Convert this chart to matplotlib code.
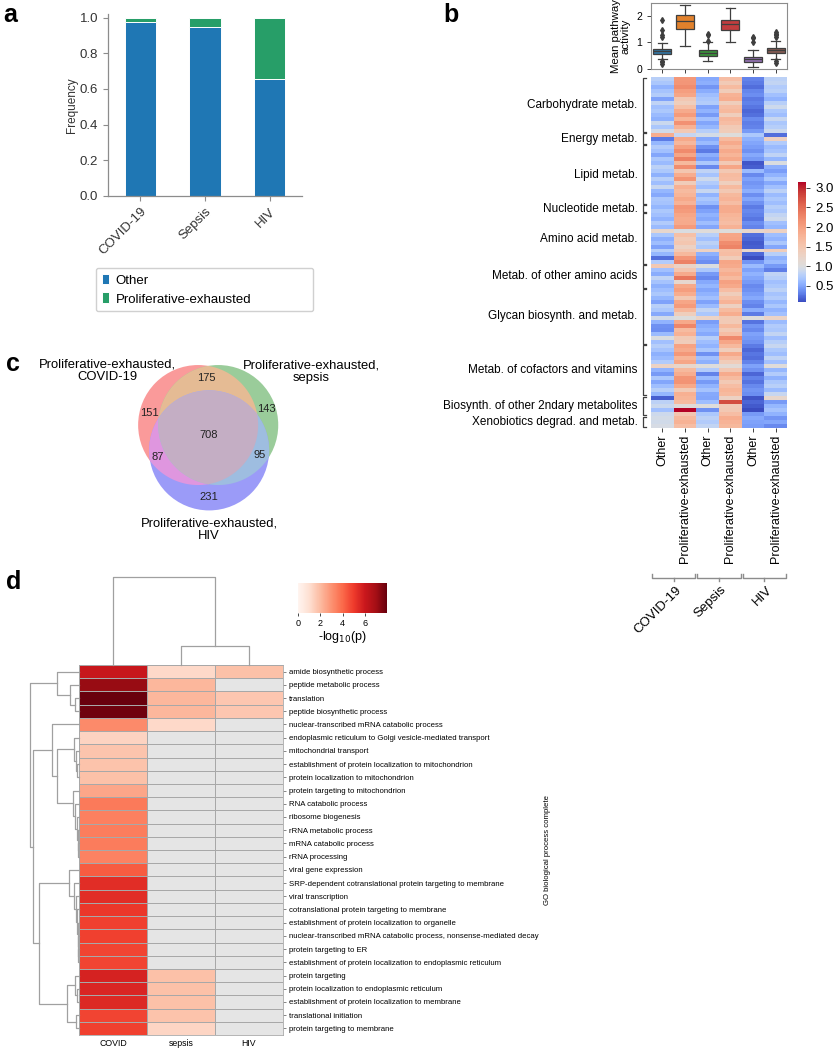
import numpy as np
import matplotlib
matplotlib.use("Agg")
import matplotlib.pyplot as plt
from matplotlib.colors import ListedColormap, Normalize, TwoSlopeNorm
from matplotlib.patches import Circle, Polygon
from matplotlib.transforms import blended_transform_factory

plt.rcParams["font.family"] = ["Liberation Sans", "DejaVu Sans"]

# ---------------- data ----------------
# (a) cell-state frequencies
DISEASES = ["COVID-19", "Sepsis", "HIV"]
FREQ_OTHER = [0.975, 0.945, 0.655]
FREQ_PE = [0.025, 0.055, 0.345]

# (b) mean pathway activity, rows = KEGG pathways, cols = disease x state
COL_LABELS = ["Other", "Proliferative-exhausted"] * 3
GROUP_NAMES = ["Carbohydrate metab.", "Energy metab.", "Lipid metab.", "Nucleotide metab.",
               "Amino acid metab.", "Metab. of other amino acids", "Glycan biosynth. and metab.",
               "Metab. of cofactors and vitamins", "Biosynth. of other 2ndary metabolites",
               "Xenobiotics degrad. and metab."]
GROUP_SIZES = [14, 3, 15, 2, 13, 6, 14, 13, 5, 3]
ACTIVITY = [
    # carbohydrate
    [0.78, 2.08, 0.52, 1.62, 0.33, 0.80], [0.70, 2.10, 0.55, 1.42, 0.30, 0.84],
    [0.58, 2.20, 0.42, 1.66, 0.24, 0.74], [0.68, 2.02, 0.54, 1.40, 0.35, 0.79],
    [0.75, 1.94, 0.64, 1.78, 0.38, 0.66], [0.48, 1.48, 0.70, 1.84, 0.29, 0.58],
    [0.82, 1.36, 0.75, 1.38, 0.32, 0.78], [0.66, 1.60, 0.48, 1.62, 0.27, 0.90],
    [0.72, 1.88, 0.58, 1.70, 0.22, 0.72], [0.62, 2.05, 0.44, 1.36, 0.25, 0.64],
    [0.56, 1.75, 0.66, 1.72, 0.37, 0.86], [0.88, 2.15, 0.50, 1.64, 0.31, 0.70],
    [0.70, 1.78, 0.60, 1.44, 0.34, 0.76], [0.92, 1.45, 0.76, 1.40, 0.44, 0.88],
    # energy
    [1.85, 0.85, 0.95, 1.02, 0.72, 0.24], [0.30, 1.90, 0.52, 1.68, 0.56, 1.32],
    [0.60, 1.72, 0.62, 1.88, 0.50, 0.74],
    # lipid
    [0.74, 2.00, 0.40, 1.70, 0.46, 0.62], [0.66, 2.22, 0.30, 1.88, 0.40, 0.68],
    [0.50, 1.92, 0.55, 1.74, 0.52, 0.82], [0.70, 2.30, 0.46, 1.90, 0.44, 0.60],
    [0.62, 1.70, 0.72, 1.45, 0.14, 0.98], [0.80, 2.18, 0.36, 1.92, 0.18, 0.55],
    [0.72, 1.50, 0.82, 1.46, 0.62, 0.46], [0.56, 1.84, 0.68, 1.66, 0.36, 0.58],
    [0.76, 2.12, 0.90, 1.62, 0.48, 0.70], [0.64, 1.40, 0.74, 1.34, 0.42, 0.52],
    [0.86, 1.80, 0.64, 1.68, 0.46, 0.66], [0.60, 1.66, 0.86, 1.46, 0.55, 0.80],
    [0.52, 1.74, 0.58, 1.70, 0.38, 0.62], [0.70, 1.90, 0.70, 1.76, 0.50, 0.72],
    [0.68, 1.76, 0.62, 1.64, 0.40, 0.64],
    # nucleotide
    [0.60, 2.10, 0.40, 1.86, 0.30, 0.76], [0.72, 2.04, 0.48, 1.86, 0.36, 0.70],
    # amino acid
    [0.66, 1.92, 0.58, 1.74, 0.32, 0.84], [0.58, 1.86, 0.52, 1.70, 0.28, 0.90],
    [0.74, 1.88, 0.64, 1.62, 0.38, 0.66], [0.62, 2.05, 0.50, 1.78, 0.34, 0.60],
    [1.20, 0.98, 1.05, 1.02, 1.20, 1.30], [0.70, 1.60, 0.78, 1.94, 0.25, 0.64],
    [0.55, 1.42, 0.66, 1.96, 0.20, 0.58], [0.64, 1.50, 0.80, 2.20, 0.16, 0.70],
    [0.48, 1.30, 0.72, 2.28, 0.18, 0.50], [0.76, 1.45, 1.30, 1.60, 1.17, 1.38],
    [0.60, 1.70, 0.56, 1.62, 0.22, 0.78], [0.25, 2.10, 0.46, 1.40, 0.11, 0.56],
    [0.74, 2.30, 0.38, 1.94, 0.42, 0.62],
    # other amino acids
    [1.47, 1.24, 0.98, 1.88, 0.62, 0.44], [0.66, 1.52, 0.70, 1.72, 0.48, 0.31],
    [0.54, 1.88, 0.44, 1.84, 0.58, 0.82], [0.82, 2.40, 0.36, 1.68, 0.50, 0.76],
    [0.68, 1.16, 0.52, 1.98, 0.44, 0.66], [0.56, 1.90, 0.60, 1.90, 0.36, 0.72],
    # glycan
    [0.64, 2.02, 0.50, 1.64, 0.40, 0.80], [0.72, 1.84, 0.58, 1.38, 0.46, 0.68],
    [0.60, 1.46, 0.66, 1.60, 0.52, 0.74], [0.48, 1.94, 0.48, 1.76, 0.38, 0.60],
    [0.78, 2.06, 0.62, 1.32, 0.34, 0.70], [0.70, 1.72, 0.84, 1.66, 0.54, 0.58],
    [0.52, 1.36, 0.70, 1.84, 0.30, 0.66], [0.92, 1.02, 1.26, 1.44, 1.00, 1.26],
    [0.58, 1.90, 0.46, 1.42, 0.26, 0.62], [0.40, 2.25, 0.54, 1.70, 0.42, 0.74],
    [0.38, 1.66, 0.60, 1.44, 0.36, 0.70], [0.62, 1.80, 0.52, 1.62, 0.48, 0.84],
    [0.98, 1.42, 0.76, 2.24, 0.44, 0.64], [0.66, 1.38, 0.64, 1.92, 0.40, 0.76],
    # cofactors and vitamins
    [0.76, 1.96, 0.58, 1.70, 0.30, 0.86], [0.68, 1.86, 0.70, 1.36, 0.22, 0.72],
    [0.56, 2.08, 0.40, 1.90, 0.28, 0.64], [0.62, 1.74, 0.66, 1.64, 0.24, 0.82],
    [0.74, 1.92, 0.56, 1.40, 0.34, 0.66], [1.28, 1.20, 1.02, 1.10, 0.48, 1.05],
    [0.58, 1.70, 0.74, 1.48, 0.40, 0.60], [0.44, 1.84, 0.34, 1.86, 0.20, 0.74],
    [0.70, 2.12, 0.62, 1.66, 0.32, 0.56], [0.50, 2.14, 0.44, 1.45, 0.26, 0.70],
    [0.64, 1.90, 0.58, 1.62, 0.36, 0.78], [0.78, 1.44, 0.68, 1.74, 0.42, 0.62],
    [0.60, 1.82, 0.52, 1.68, 0.38, 0.86],
    # 2ndary metabolites
    [0.18, 1.74, 0.50, 1.30, 0.13, 1.20], [0.80, 1.66, 0.64, 2.75, 0.20, 0.44],
    [0.88, 1.04, 1.00, 1.42, 0.16, 0.60], [0.66, 3.15, 0.40, 1.46, 0.09, 0.68],
    [0.90, 1.50, 0.72, 1.62, 0.44, 0.58],
    # xenobiotics
    [0.94, 1.70, 0.80, 1.84, 0.52, 0.42], [0.92, 1.78, 0.74, 1.76, 0.48, 0.50],
    [0.96, 1.64, 0.84, 1.70, 0.46, 0.36],
]

# (c) venn region counts: COVID-19 / sepsis / HIV
VENN_ONLY = [151, 143, 231]          # A, B, C
VENN_PAIR = [175, 87, 95]            # AB, AC, BC
VENN_ALL = 708
VENN_NAMES = ["Proliferative-exhausted,\nCOVID-19", "Proliferative-exhausted,\nsepsis",
              "Proliferative-exhausted,\nHIV"]

# (d) GO enrichment, -log10(p); nan = not enriched
GO_TERMS = ["amide biosynthetic process", "peptide metabolic process", "translation",
            "peptide biosynthetic process", "nuclear-transcribed mRNA catabolic process",
            "endoplasmic reticulum to Golgi vesicle-mediated transport", "mitochondrial transport",
            "establishment of protein localization to mitochondrion",
            "protein localization to mitochondrion", "protein targeting to mitochondrion",
            "RNA catabolic process", "ribosome biogenesis", "rRNA metabolic process",
            "mRNA catabolic process", "rRNA processing", "viral gene expression",
            "SRP-dependent cotranslational protein targeting to membrane", "viral transcription",
            "cotranslational protein targeting to membrane",
            "establishment of protein localization to organelle",
            "nuclear-transcribed mRNA catabolic process, nonsense-mediated decay",
            "protein targeting to ER", "establishment of protein localization to endoplasmic reticulum",
            "protein targeting", "protein localization to endoplasmic reticulum",
            "establishment of protein localization to membrane", "translational initiation",
            "protein targeting to membrane"]
GO_GROUPS = ["COVID", "sepsis", "HIV"]
nan = np.nan
GO_COVID = [6.1, 7.2, 7.95, 7.85, 3.2, 1.35, 1.75, 1.8, 1.85, 2.5, 3.6, 3.45, 3.5, 3.55,
            3.4, 4.3, 5.4, 5.4, 5.1, 4.9, 4.9, 4.8, 4.8, 5.7, 5.6, 5.5, 4.8, 4.9]
GO_SEPSIS = [1.2, 2.1, 2.1, 2.1, 1.2, nan, nan, nan, nan, nan, nan, nan, nan, nan,
             nan, nan, nan, nan, nan, nan, nan, nan, nan, 1.85, 1.85, 1.85, 1.8, 1.3]
GO_HIV = [1.85, nan, 1.7, 1.7] + [nan] * 24
# dendrograms: (height, left, right), leaves are indices
COL_TREE = (88, 0, (19, 1, 2))
ROW_TREE = (49, (22, 0, (9, 1, (4, 2, 3))),
            (46, (27, 4, (22, (5, 5, (3, 6, (2, 7, 8))),
                          (6, 9, (4, 10, (2, 11, (1, 12, (1, 13, 14))))))),
             (40, (10, 15, (5, 16, (3, 17, (2, 18, (1, 19, (1, 20, (1, 21, 22))))))),
              (12, (4, 23, (2, 24, 25)), (3, 26, 27)))))

# ---------------- layout helpers ----------------
W, H = 833, 1050
fig = plt.figure(figsize=(W / 100, H / 100), dpi=100)


def rect(x0, y0, x1, y1):
    return [x0 / W, 1 - y1 / H, (x1 - x0) / W, (y1 - y0) / H]


GREY = "#8c8c8c"
TXT = "#333333"

# ---------------- (a) stacked bars ----------------
C_OTHER, C_PE = "#1f77b4", "#279e68"
ax = fig.add_axes(rect(108, 14, 302, 196))
xs = np.arange(len(DISEASES))
ax.bar(xs, FREQ_OTHER, width=0.48, color=C_OTHER, edgecolor="white", lw=0.7, label="Other")
ax.bar(xs, FREQ_PE, bottom=FREQ_OTHER, width=0.48, color=C_PE, edgecolor="white", lw=0.7,
       label="Proliferative-exhausted")
ax.set_xlim(-0.5, 2.5)
ax.set_ylim(0, 1.02)
ax.set_yticks([0, 0.2, 0.4, 0.6, 0.8, 1.0])
ax.set_xticks(xs)
ax.set_xticklabels(DISEASES, rotation=45, ha="right", rotation_mode="anchor")
ax.tick_params(colors=GREY, labelcolor=TXT, labelsize=9.5, length=3.5, width=0.8)
ax.set_ylabel("Frequency", fontsize=8.5, color=TXT, labelpad=1)
for s in ["top", "right"]:
    ax.spines[s].set_visible(False)
for s in ["left", "bottom"]:
    ax.spines[s].set_color(GREY)
    ax.spines[s].set_linewidth(0.9)
ax.legend(loc="upper left", bbox_to_anchor=(89 / W, 1 - 261 / H, 231 / W, 0.0),
          bbox_transform=fig.transFigure, mode="expand", fontsize=9.5, handlelength=0.55,
          handleheight=0.9, handletextpad=0.5, labelspacing=0.45, borderpad=0.45,
          framealpha=1, edgecolor="#d0d0d0")

# ---------------- (b) box plot + heatmap ----------------
M = np.array(ACTIVITY)
vmin, vmax = M.min(), M.max()
tsn = TwoSlopeNorm(vcenter=1.0, vmin=vmin, vmax=vmax)
cmap_b = ListedColormap(plt.get_cmap("coolwarm")(tsn(np.linspace(vmin, vmax, 256))))

BOX_COLORS = ["#3274a1", "#e1812c", "#3a923a", "#c03d3e", "#9372b2", "#845b53"]
axb = fig.add_axes(rect(651, 3, 787, 69))
dark = "#3f3f3f"
bp = axb.boxplot([M[:, j] for j in range(M.shape[1])], positions=range(M.shape[1]),
                 widths=0.8, patch_artist=True,
                 boxprops=dict(edgecolor=dark, lw=0.9),
                 medianprops=dict(color=dark, lw=0.9),
                 whiskerprops=dict(color=dark, lw=0.9), capprops=dict(color=dark, lw=0.9),
                 flierprops=dict(marker="d", markerfacecolor=dark, markeredgecolor=dark,
                                 markersize=3))
for patch, c in zip(bp["boxes"], BOX_COLORS):
    patch.set_facecolor(c)
axb.set_xlim(-0.5, 5.5)
axb.set_ylim(0, 2.47)
axb.set_yticks([0, 1, 2])
axb.set_xticks(range(6))
axb.set_xticklabels([])
axb.tick_params(labelsize=7.5, length=3, width=0.7, colors=dark, labelcolor="black")
for s in axb.spines.values():
    s.set_color(GREY)
    s.set_linewidth(0.8)
axb.set_ylabel("Mean pathway\nactivity", fontsize=8.2, labelpad=4, linespacing=1.0)

axh = fig.add_axes(rect(651, 77, 787, 428))
im = axh.imshow(M, aspect="auto", cmap=cmap_b, norm=Normalize(vmin, vmax),
                interpolation="nearest")
axh.set_yticks([])
axh.set_xticks(range(6))
axh.set_xticklabels(COL_LABELS, rotation=90, fontsize=9)
axh.tick_params(axis="x", length=3, width=0.7, color=dark, pad=2)
for s in axh.spines.values():
    s.set_visible(False)

# pathway group brackets
tr = blended_transform_factory(axh.transAxes, axh.transData)
start = 0
for name, n in zip(GROUP_NAMES, GROUP_SIZES):
    y0, y1 = start - 0.5 + 0.15, start + n - 0.5 - 0.15
    xl, xc = -0.062, -0.04
    axh.plot([xc, xl, xl, xc], [y0, y0, y1, y1], color=dark, lw=0.9, transform=tr,
             clip_on=False)
    axh.text(-0.1, start + n / 2 - 0.5, name, transform=tr, ha="right", va="center",
             fontsize=8.5)
    start += n

# disease brackets under the column labels
trb = blended_transform_factory(axh.transData, fig.transFigure)
yb = 1 - 578 / H
for k, name in enumerate(DISEASES):
    a0, a1 = 2 * k - 0.45, 2 * k + 1.45
    mid = 2 * k + 0.5
    up = 4 / H
    axh.plot([a0, a0, a1, a1], [yb + up, yb, yb, yb + up], color=GREY, lw=1.0, transform=trb,
             clip_on=False)
    axh.plot([mid, mid], [yb, yb - 3 / H], color=GREY, lw=1.0, transform=trb, clip_on=False)
    axh.text(mid + 0.25, yb - 10 / H, name, transform=trb, rotation=45, ha="right", va="center",
             rotation_mode="anchor", fontsize=9.5)

cax = fig.add_axes(rect(798, 182, 806, 302))
cb = fig.colorbar(im, cax=cax, ticks=[0.5, 1.0, 1.5, 2.0, 2.5, 3.0])
cb.outline.set_visible(False)
cax.tick_params(labelsize=9.5, length=3, width=0.7, color=dark)

# ---------------- (c) venn diagram ----------------
sizes = [VENN_ONLY[0] + VENN_PAIR[0] + VENN_PAIR[1] + VENN_ALL,
         VENN_ONLY[1] + VENN_PAIR[0] + VENN_PAIR[2] + VENN_ALL,
         VENN_ONLY[2] + VENN_PAIR[1] + VENN_PAIR[2] + VENN_ALL]
pair_area = [VENN_PAIR[0] + VENN_ALL, VENN_PAIR[1] + VENN_ALL, VENN_PAIR[2] + VENN_ALL]
radii = np.sqrt(np.array(sizes) / np.pi)


def overlap(d, r1, r2):
    if d >= r1 + r2:
        return 0.0
    if d <= abs(r1 - r2):
        return np.pi * min(r1, r2) ** 2
    a1 = r1 ** 2 * np.arccos((d ** 2 + r1 ** 2 - r2 ** 2) / (2 * d * r1))
    a2 = r2 ** 2 * np.arccos((d ** 2 + r2 ** 2 - r1 ** 2) / (2 * d * r2))
    a3 = 0.5 * np.sqrt((-d + r1 + r2) * (d + r1 - r2) * (d - r1 + r2) * (d + r1 + r2))
    return a1 + a2 - a3


def solve_dist(area, r1, r2):
    lo, hi = abs(r1 - r2) + 1e-9, r1 + r2
    for _ in range(80):
        m = 0.5 * (lo + hi)
        if overlap(m, r1, r2) > area:
            lo = m
        else:
            hi = m
    return 0.5 * (lo + hi)


dAB = solve_dist(pair_area[0], radii[0], radii[1])
dAC = solve_dist(pair_area[1], radii[0], radii[2])
dBC = solve_dist(pair_area[2], radii[1], radii[2])
cx_c = (dAB ** 2 + dAC ** 2 - dBC ** 2) / (2 * dAB)
centers = np.array([[0.0, 0.0], [dAB, 0.0], [cx_c, np.sqrt(dAC ** 2 - cx_c ** 2)]])
centers -= centers.mean(axis=0)
scale = 60 / radii.mean()                    # px per unit
centers = centers * scale + np.array([208.5, 433.5])
rads = radii * scale

axc = fig.add_axes(rect(0, 345, 420, 560))
axc.set_xlim(0, 420)
axc.set_ylim(560, 345)
axc.axis("off")


def circ_poly(c, r, n=360):
    t = np.linspace(0, 2 * np.pi, n, endpoint=False)
    return np.column_stack([c[0] + r * np.cos(t), c[1] + r * np.sin(t)])


def clip_poly(subject, clipper):
    out = list(map(tuple, subject))
    n = len(clipper)
    for i in range(n):
        a, b = clipper[i], clipper[(i + 1) % n]
        inp, out = out, []
        if not inp:
            break

        def inside(p):
            return (b[0] - a[0]) * (p[1] - a[1]) - (b[1] - a[1]) * (p[0] - a[0]) >= 0

        def inter(p, q):
            x1, y1 = p
            x2, y2 = q
            den = (x1 - x2) * (a[1] - b[1]) - (y1 - y2) * (a[0] - b[0])
            t = ((x1 - a[0]) * (a[1] - b[1]) - (y1 - a[1]) * (a[0] - b[0])) / den
            return (x1 + t * (x2 - x1), y1 + t * (y2 - y1))

        s = inp[-1]
        for e in inp:
            if inside(e):
                if not inside(s):
                    out.append(inter(s, e))
                out.append(e)
            elif inside(s):
                out.append(inter(s, e))
            s = e
    return np.array(out)


polys = [circ_poly(c, r) for c, r in zip(centers, rads)]
ONE_COL = ["#fa9a9a", "#9acc9a", "#9b9bf8"]
PAIR_COL = ["#e5bb94", "#df96df", "#9ebde0"]
ALL_COL = "#c4aec4"
for c, r, col in zip(centers, rads, ONE_COL):
    axc.add_patch(Circle(c, r, facecolor=col, edgecolor="none"))
pairs = [(0, 1), (0, 2), (1, 2)]
for (i, j), col in zip(pairs, PAIR_COL):
    axc.add_patch(Polygon(clip_poly(polys[i], polys[j]), closed=True, facecolor=col,
                          edgecolor="none"))
tri = clip_poly(clip_poly(polys[0], polys[1]), polys[2])
axc.add_patch(Polygon(tri, closed=True, facecolor=ALL_COL, edgecolor="none"))

# label each region at its most interior point
gx, gy = np.meshgrid(np.linspace(120, 300, 361), np.linspace(350, 520, 341))
dist = np.stack([np.hypot(gx - c[0], gy - c[1]) for c in centers])
inside = dist < rads[:, None, None]
depth = np.min(np.abs(dist - rads[:, None, None]), axis=0)
codes = [(1, 0, 0), (0, 1, 0), (0, 0, 1), (1, 1, 0), (1, 0, 1), (0, 1, 1), (1, 1, 1)]
counts = VENN_ONLY + VENN_PAIR + [VENN_ALL]
for code, cnt in zip(codes, counts):
    mask = np.all([inside[k] == bool(code[k]) for k in range(3)], axis=0)
    dd = np.where(mask, depth, -1)
    k = np.unravel_index(np.argmax(dd), dd.shape)
    axc.text(gx[k], gy[k], str(cnt), ha="center", va="center", fontsize=8, color="#222222")

axc.text(107, 371, VENN_NAMES[0], ha="center", va="center", fontsize=9.4, linespacing=1.1)
axc.text(311, 372, VENN_NAMES[1], ha="center", va="center", fontsize=9.4, linespacing=1.1)
axc.text(209, 530, VENN_NAMES[2], ha="center", va="center", fontsize=9.4, linespacing=1.1)

# ---------------- (d) GO clustered heatmap ----------------
G = np.ma.masked_invalid(np.column_stack([GO_COVID, GO_SEPSIS, GO_HIV]))
cmap_d = plt.get_cmap("Reds").copy()
cmap_d.set_bad("#e5e5e5")
axd = fig.add_axes(rect(79, 665, 283, 1035))
axd.set_facecolor("#e5e5e5")
qm = axd.pcolormesh(np.arange(4), np.arange(len(GO_TERMS) + 1), G, cmap=cmap_d, vmin=0,
                    vmax=8.0, edgecolors="#a8a8a8", linewidth=0.6)
axd.set_xlim(0, 3)
axd.set_ylim(len(GO_TERMS), 0)
axd.set_xticks(np.arange(3) + 0.5)
axd.set_xticklabels(GO_GROUPS, fontsize=6.3)
axd.set_yticks(np.arange(len(GO_TERMS)) + 0.5)
axd.set_yticklabels(GO_TERMS, fontsize=5.6)
axd.yaxis.tick_right()
axd.yaxis.set_label_position("right")
axd.set_ylabel("GO biological process complete", fontsize=5.6, labelpad=4)
axd.tick_params(length=2.5, width=0.5, color="#555555", pad=1.5)
axd.tick_params(axis="x", length=0, pad=3)
for s in axd.spines.values():
    s.set_color("#a8a8a8")
    s.set_linewidth(0.6)

DCOL = "#a0a0a0"


def draw_tree(a, node, vertical):
    if isinstance(node, int):
        return node + 0.5, 0.0
    h, left, right = node
    p1, h1 = draw_tree(a, left, vertical)
    p2, h2 = draw_tree(a, right, vertical)
    if vertical:
        a.plot([p1, p1, p2, p2], [h1, h, h, h2], color=DCOL, lw=0.9, clip_on=False)
    else:
        a.plot([h1, h, h, h2], [p1, p1, p2, p2], color=DCOL, lw=0.9, clip_on=False)
    return (p1 + p2) / 2, h


axcd = fig.add_axes(rect(79, 577, 283, 665))
draw_tree(axcd, COL_TREE, True)
axcd.set_xlim(0, 3)
axcd.set_ylim(0, COL_TREE[0])
axcd.axis("off")

axrd = fig.add_axes(rect(30, 665, 79, 1035))
draw_tree(axrd, ROW_TREE, False)
axrd.set_xlim(ROW_TREE[0], 0)
axrd.set_ylim(len(GO_TERMS), 0)
axrd.axis("off")

caxd = fig.add_axes(rect(298, 583, 387, 613))
cbd = fig.colorbar(qm, cax=caxd, orientation="horizontal", ticks=[0, 2, 4, 6])
cbd.outline.set_visible(False)
caxd.tick_params(labelsize=6.5, length=2.5, width=0.5, pad=1.5)
cbd.set_label("-log$_{10}$(p)", fontsize=9, labelpad=1)

# ---------------- panel letters ----------------
for lab, x, y in [("a", 3, 3), ("b", 443, 3), ("c", 6, 352), ("d", 6, 570)]:
    fig.text(x / W, 1 - y / H, lab, fontsize=18, fontweight="bold", va="top", ha="left")

fig.savefig("out.png", dpi=100)
